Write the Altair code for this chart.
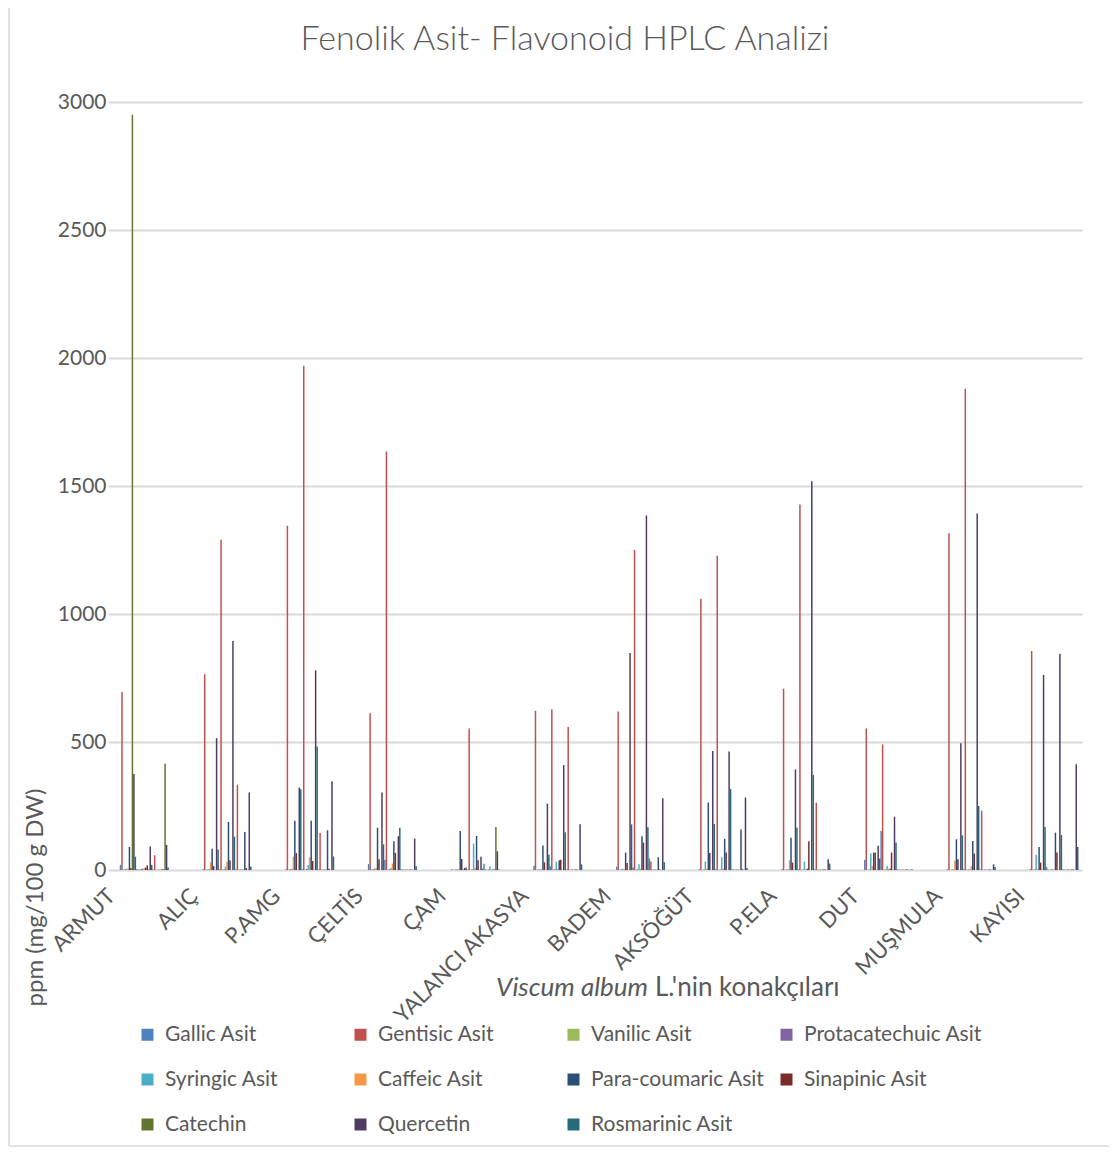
import altair as alt
import pandas as pd

hosts = ["ARMUT", "ALIÇ", "P.AMG", "ÇELTİS", "ÇAM", "YALANCI AKASYA",
         "BADEM", "AKSÖĞÜT", "P.ELA", "DUT", "MUŞMULA", "KAYISI"]

series = ["Gallic Asit", "Gentisic Asit", "Vanilic Asit", "Protacatechuic Asit",
          "Syringic Asit", "Caffeic Asit", "Para-coumaric Asit", "Sinapinic Asit",
          "Catechin", "Quercetin", "Rosmarinic Asit"]

colors = ["#4F81BD", "#C0504D", "#9BBB59", "#8064A2", "#4BACC6", "#F79646",
          "#2C4D75", "#772C2A", "#5F7530", "#4D3B62", "#276A7C"]

# 3 values per host (three sample groups), hosts in order above
gallic = [20, 3, 2, 3, 3, 2, 3, 3, 2, 23, 40, 2, 2, 2, 24, 17, 15, 2,
          13, 10, 45, 3, 3, 2, 3, 3, 2, 40, 152, 2, 3, 3, 2, 3, 12, 2]
gentisic = [695, 2, 58, 765, 1290, 333, 1345, 1970, 145, 612, 1635, 2,
            2, 553, 2, 622, 628, 559, 619, 1250, 33, 1060, 1228, 2,
            708, 1428, 263, 553, 490, 2, 1315, 1880, 232, 855, 2, 2]
vanilic = [2, 2, 1, 1, 2, 1, 2, 2, 1, 2, 2, 1, 1, 1, 1, 1, 1, 1,
           1, 1, 1, 1, 1, 1, 1, 1, 1, 1, 1, 1, 1, 1, 1, 1, 1, 1]
protacatechuic = [3, 4, 1, 2, 3, 2, 3, 4, 2, 3, 3, 2, 2, 2, 2, 2, 3, 2,
                  2, 3, 2, 2, 2, 2, 2, 2, 2, 2, 2, 2, 2, 2, 2, 2, 2, 2]
syringic = [5, 6, 2, 5, 13, 3, 5, 20, 2, 5, 8, 2, 3, 103, 15, 3, 32, 2,
            5, 22, 2, 33, 50, 2, 3, 33, 2, 65, 16, 2, 3, 3, 2, 60, 3, 2]
caffeic = [6, 8, 2, 30, 32, 3, 52, 50, 3, 8, 25, 2, 3, 8, 2, 3, 5, 2,
           3, 5, 2, 5, 5, 2, 38, 3, 2, 15, 5, 2, 37, 15, 2, 3, 3, 2]
paracoumaric = [90, 10, 3, 83, 188, 148, 192, 192, 155, 165, 112, 2,
                152, 133, 2, 96, 38, 2, 68, 132, 50, 263, 122, 158,
                126, 5, 2, 68, 5, 2, 120, 113, 2, 90, 146, 2]
sinapinic = [8, 18, 2, 15, 38, 8, 66, 35, 5, 42, 67, 2, 43, 38, 2, 30, 40, 2,
             27, 107, 2, 66, 68, 3, 29, 112, 2, 68, 68, 2, 42, 64, 2, 29, 68, 2]
catechin = [2950, 2, 415, 0, 0, 0, 0, 0, 0, 0, 0, 0, 2, 0, 168, 0, 0, 0,
            0, 0, 0, 0, 0, 0, 0, 0, 0, 0, 0, 0, 0, 0, 0, 0, 0, 0]
quercetin = [375, 92, 98, 515, 895, 303, 322, 780, 347, 303, 132, 123,
             8, 52, 73, 259, 410, 179, 848, 1385, 280, 465, 463, 283,
             393, 1519, 42, 95, 208, 2, 495, 1393, 22, 762, 845, 413]
rosmarinic = [52, 20, 10, 80, 130, 14, 315, 482, 53, 100, 165, 15,
              10, 5, 2, 60, 147, 22, 178, 167, 30, 180, 316, 8,
              165, 372, 25, 45, 107, 2, 135, 250, 12, 168, 137, 90]

all_values = [gallic, gentisic, vanilic, protacatechuic, syringic, caffeic,
              paracoumaric, sinapinic, catechin, quercetin, rosmarinic]

rows = []
for si, (name, vals) in enumerate(zip(series, all_values)):
    for hi, h in enumerate(hosts):
        for g in range(3):
            rows.append({"host": h, "series": name,
                         "k": f"{g * 11 + si:02d}", "value": vals[hi * 3 + g]})
df = pd.DataFrame(rows)

FONT = "Lato"
GREY = "#595959"

bars = alt.Chart(df).mark_bar().encode(
    x=alt.X("host:N", sort=hosts,
            scale=alt.Scale(paddingInner=0.407, paddingOuter=0.0925, align=0.77),
            axis=alt.Axis(title=None, labelAngle=-45, grid=False,
                          labelFontSize=22, labelColor=GREY, labelFont=FONT,
                          ticks=False, domain=False, labelPadding=15,
                          labelOffset=-40, labelLimit=400)),
    xOffset=alt.XOffset("k:N", scale=alt.Scale(paddingInner=0, paddingOuter=0)),
    y=alt.Y("value:Q", scale=alt.Scale(domain=[0, 3000], nice=False),
            axis=alt.Axis(values=[0, 500, 1000, 1500, 2000, 2500, 3000],
                          format="d",
                          title="ppm (mg/100 g DW)", titleFontSize=24,
                          titleFont=FONT, titleColor=GREY, titleFontWeight="normal",
                          titleX=-73, titleY=795, titleAngle=-90,
                          titleAlign="center", titleBaseline="middle",
                          labelFontSize=21, labelColor=GREY, labelFont=FONT,
                          ticks=False, domain=False, labelPadding=2,
                          gridColor="#D9D9D9", gridWidth=2)),
    color=alt.Color("series:N",
                    scale=alt.Scale(domain=series, range=colors),
                    legend=alt.Legend(title=None, orient="none", legendX=29,
                                      legendY=922, columns=4, gridAlign="all",
                                      direction="horizontal",
                                      symbolType="square", symbolSize=144,
                                      symbolStrokeWidth=0,
                                      labelFontSize=21, labelFont=FONT,
                                      labelColor=GREY, labelOffset=7,
                                      columnPadding=7, rowPadding=23,
                                      labelLimit=400)),
)

# chart title
t_title = alt.Chart(pd.DataFrame({"t": ["Fenolik Asit- Flavonoid HPLC Analizi"]})).mark_text(
    font=FONT, fontSize=34, fontWeight=300, color=GREY,
    align="center", baseline="alphabetic").encode(
    text="t:N", x=alt.value(457), y=alt.value(-52))

# x-axis title (partly italic)
t_italic = alt.Chart(pd.DataFrame({"t": ["Viscum album"]})).mark_text(
    font=FONT, fontSize=26, fontStyle="italic", color=GREY,
    align="right", baseline="alphabetic").encode(
    text="t:N", x=alt.value(540), y=alt.value(894))
t_normal = alt.Chart(pd.DataFrame({"t": ["L.'nin konakçıları"]})).mark_text(
    font=FONT, fontSize=26, color=GREY,
    align="left", baseline="alphabetic").encode(
    text="t:N", x=alt.value(547), y=alt.value(894))

# chart-area frame (left and bottom edges, as in the reference)
frame_df = pd.DataFrame({"a": [0]})
frame_left = alt.Chart(frame_df).mark_rule(color="#D9D9D9", strokeWidth=1.5).encode(
    x=alt.value(-99), y=alt.value(-94), y2=alt.value(1044))
frame_bottom = alt.Chart(frame_df).mark_rule(color="#D9D9D9", strokeWidth=1.5).encode(
    x=alt.value(-99), x2=alt.value(1001), y=alt.value(1044))

chart = alt.layer(bars, t_title, t_italic, t_normal, frame_left, frame_bottom).properties(
    width=974, height=768,
    background="white",
    autosize=alt.AutoSizeParams(type="none"),
    padding={"left": 100, "top": 94, "right": 27, "bottom": 277},
).configure_view(stroke="transparent", strokeWidth=0)

chart.save("out.html", embed_options={"renderer": "svg", "actions": False})
